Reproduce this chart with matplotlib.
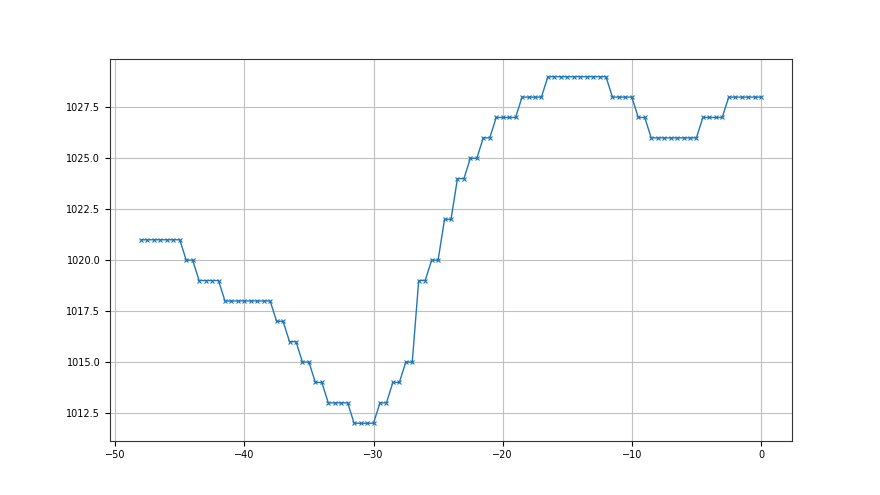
import numpy as np
import matplotlib
matplotlib.use('Agg')
import matplotlib.pyplot as plt

# x 从 -48 到 0，每 0.5 一个点
x_start = -48.0
x_step = 0.5

# 每段台阶的值和点数
levels = [1021, 1020, 1019, 1018, 1017, 1016, 1015, 1014, 1013, 1012,
          1013, 1014, 1015, 1019, 1020, 1022, 1024, 1025, 1026, 1027,
          1028, 1029, 1028, 1027, 1026, 1027, 1028]
counts = [7, 2, 4, 8, 2, 2, 2, 2, 4, 4,
          2, 2, 2, 2, 2, 2, 2, 2, 2, 4,
          4, 10, 4, 2, 8, 4, 6]

y = np.repeat(levels, counts)
x = x_start + x_step * np.arange(len(y))

plt.rcParams['font.size'] = 7
fig, ax = plt.subplots(figsize=(8.8, 4.95), dpi=100)
ax.plot(x, y, marker='x', markersize=3.5, markeredgewidth=0.8,
        linewidth=1, color='#1f77b4')
ax.grid(True, color='#c0c0c0', linewidth=0.8)
for s in ax.spines.values():
    s.set_color('#333333')

plt.savefig('out.png', dpi=100)
plt.close()
